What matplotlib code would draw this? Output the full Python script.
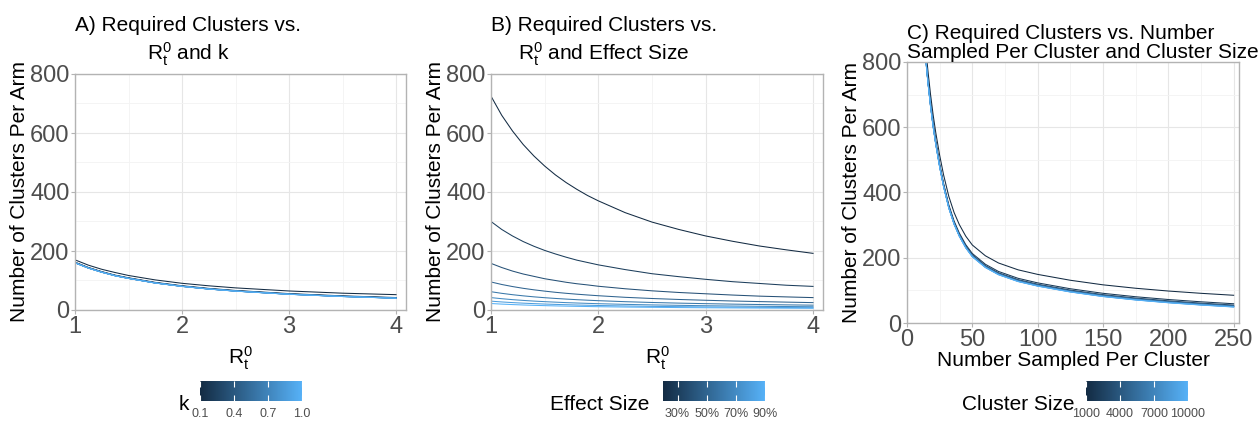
import numpy as np
import matplotlib
matplotlib.use("Agg")
import matplotlib.pyplot as plt
from matplotlib.colors import LinearSegmentedColormap, Normalize
from matplotlib.cm import ScalarMappable

plt.rcParams['font.family'] = ['Liberation Sans', 'DejaVu Sans']
plt.rcParams['mathtext.fontset'] = 'custom'
plt.rcParams['mathtext.rm'] = 'Liberation Sans'
plt.rcParams['mathtext.it'] = 'Liberation Sans:italic'

# ---- data ----
r_vals_a = [1, 1.125, 1.25, 1.375, 1.5, 1.75, 2, 2.25, 2.5, 3, 3.5, 4]
k_vals = [0.1, 0.2, 0.3, 0.4, 0.5, 0.6, 0.7, 0.8, 0.9, 1.0]
clusters_by_k = [
    [170, 152, 138, 127, 117, 102, 90.5, 82, 75, 64.5, 57, 52],
    [162.2, 144.2, 130.2, 118.2, 109.2, 93.6, 82.2, 73.2, 66.2, 55.5, 47.9, 42.2],
    [161.2, 143.2, 129.2, 117.2, 108.2, 92.6, 81.2, 72.2, 65.2, 54.5, 46.9, 41.2],
    [160.7, 142.7, 128.7, 116.7, 107.7, 92.1, 80.7, 71.7, 64.7, 54.0, 46.4, 40.7],
    [160.45, 142.45, 128.45, 116.45, 107.45, 91.85, 80.45, 71.45, 64.45, 53.75, 46.15, 40.45],
    [160.3, 142.3, 128.3, 116.3, 107.3, 91.7, 80.3, 71.3, 64.3, 53.6, 46.0, 40.3],
    [160.2, 142.2, 128.2, 116.2, 107.2, 91.6, 80.2, 71.2, 64.2, 53.5, 45.9, 40.2],
    [160.1, 142.1, 128.1, 116.1, 107.1, 91.5, 80.1, 71.1, 64.1, 53.4, 45.8, 40.1],
    [160.05, 142.05, 128.05, 116.05, 107.05, 91.45, 80.05, 71.05, 64.05, 53.35, 45.75, 40.05],
    [160, 142, 128, 116, 107, 91.4, 80, 71, 64, 53.3, 45.7, 40],
]

r_vals_b = [1, 1.1, 1.2, 1.3, 1.4, 1.5, 1.6, 1.7, 1.8, 1.9, 2,
            2.25, 2.5, 2.75, 3, 3.25, 3.5, 3.75, 4]
effect_vals = [0.2, 0.3, 0.4, 0.5, 0.6, 0.7, 0.8, 0.9]
clusters_by_effect = [
    [725, 660, 607, 561, 522, 488, 458, 432, 409, 388, 370, 330, 298, 273, 251, 233, 217, 204, 192],
    [300, 273, 251, 232, 216, 202, 190, 179, 169, 161, 153, 137, 123, 113, 104, 96, 90, 84, 80],
    [158, 144, 132, 122, 114, 106, 100, 94, 89, 85, 80.5, 72, 65, 59.4, 55, 50.7, 47, 44.4, 42],
    [95, 86.5, 79.5, 73.5, 68.4, 64, 60, 56.6, 53.6, 50.9, 48.4, 43, 39, 35.7, 33, 30.5, 28.5, 26.7, 25],
    [62, 56.5, 51.9, 48, 44.6, 41.7, 39.2, 37, 35, 33.2, 31.6, 28.2, 25.5, 23.3, 21.5, 19.9, 18.6, 17.4, 16.4],
    [42, 38.3, 35.1, 32.5, 30.2, 28.3, 26.6, 25, 23.7, 22.5, 21.4, 19.1, 17.3, 15.8, 14.5, 13.5, 12.6, 11.8, 11.1],
    [30, 27.3, 25.1, 23.2, 21.6, 20.2, 19, 17.9, 16.9, 16.1, 15.3, 13.7, 12.3, 11.3, 10.4, 9.6, 9, 8.4, 7.9],
    [22, 20, 18.4, 17, 15.8, 14.8, 13.9, 13.1, 12.4, 11.8, 11.2, 10, 9.1, 8.3, 7.6, 7.1, 6.6, 6.2, 5.8],
]

m_vals = [13, 14, 15, 16, 18, 20, 22, 25, 28, 32, 36, 40, 45, 50,
          60, 70, 85, 100, 125, 150, 175, 200, 225, 250]
size_vals = [1000, 2000, 3000, 4000, 5000, 6000, 7000, 8000, 9000, 10000]
clusters_by_size = [
    [916, 864, 816, 774, 701, 638, 584, 514, 454, 388, 339, 302, 266, 239, 206, 184, 163, 149, 131, 117, 106.5, 98, 91, 85],
    [890, 838, 790, 748, 675, 612, 558, 488, 428, 362, 313, 276, 240, 213, 180, 158, 137, 123, 105, 91, 80.5, 72, 65, 59],
    [886, 834, 786, 744, 671, 608, 554, 484, 424, 358, 309, 272, 236, 209, 176, 154, 133, 119, 101, 87, 76.5, 68, 61, 55],
    [884, 832, 784, 742, 669, 606, 552, 482, 422, 356, 307, 270, 234, 207, 174, 152, 131, 117, 99, 85, 74.5, 66, 59, 53],
    [883, 831, 783, 741, 668, 605, 551, 481, 421, 355, 306, 269, 233, 206, 173, 151, 130, 116, 98, 84, 73.5, 65, 58, 52],
    [882, 830, 782, 740, 667, 604, 550, 480, 420, 354, 305, 268, 232, 205, 172, 150, 129, 115, 97, 83, 72.5, 64, 57, 51],
    [881.4, 829.4, 781.4, 739.4, 666.4, 603.4, 549.4, 479.4, 419.4, 353.4, 304.4, 267.4, 231.4, 204.4, 171.4, 149.4, 128.4, 114.4, 96.4, 82.4, 71.9, 63.4, 56.4, 50.4],
    [880.9, 828.9, 780.9, 738.9, 665.9, 602.9, 548.9, 478.9, 418.9, 352.9, 303.9, 266.9, 230.9, 203.9, 170.9, 148.9, 127.9, 113.9, 95.9, 81.9, 71.4, 62.9, 55.9, 49.9],
    [880.4, 828.4, 780.4, 738.4, 665.4, 602.4, 548.4, 478.4, 418.4, 352.4, 303.4, 266.4, 230.4, 203.4, 170.4, 148.4, 127.4, 113.4, 95.4, 81.4, 70.9, 62.4, 55.4, 49.4],
    [880, 828, 780, 738, 665, 602, 548, 478, 418, 352, 303, 266, 230, 203, 170, 148, 127, 113, 95, 81, 70.5, 62, 55, 49],
]

# ---- style ----
cmap = LinearSegmentedColormap.from_list('gg', ['#132B43', '#56B1F7'])
border = '#B3B3B3'
grid_major = '#E6E6E6'
grid_minor = '#F3F3F3'
tick_col = '#4D4D4D'
R_lab = r'$\mathregular{R_t^0}$'
LW = 0.75

W, H = 1260, 423
fig = plt.figure(figsize=(W / 100, H / 100), dpi=100)


def px_axes(left, top, right, bottom):
    return fig.add_axes([left / W, 1 - bottom / H, (right - left) / W, (bottom - top) / H])


def style(ax, xmajor, xminor):
    ax.set_ylim(0, 800)
    ax.set_yticks([0, 200, 400, 600, 800])
    ax.set_yticks([100, 300, 500, 700], minor=True)
    ax.set_xticks(xmajor)
    ax.set_xticks(xminor, minor=True)
    ax.grid(True, which='major', color=grid_major, lw=0.8)
    ax.grid(True, which='minor', color=grid_minor, lw=0.6)
    ax.set_axisbelow(True)
    for s in ax.spines.values():
        s.set_color(border)
        s.set_linewidth(1.0)
    ax.tick_params(which='major', length=3, width=0.8, color=border,
                   labelsize=17, labelcolor=tick_col, pad=1)
    ax.tick_params(which='minor', length=0)
    ax.set_ylabel('Number of Clusters Per Arm', fontsize=15, labelpad=1)


def colorbar(left, top, right, bottom, norm, ticks, labels):
    cax = px_axes(left, top, right, bottom)
    cb = fig.colorbar(ScalarMappable(norm=norm, cmap=cmap), cax=cax, orientation='horizontal')
    cb.outline.set_visible(False)
    cb.set_ticks(ticks)
    cb.set_ticklabels(labels)
    cax.tick_params(axis='x', direction='in', length=4, width=0.8, color='white',
                    labelsize=9, labelcolor=tick_col, pad=5, top=True)
    return cax


# panel A
axA = px_axes(75, 74, 406, 310)
normA = Normalize(min(k_vals), max(k_vals))
for k, ys in zip(k_vals, clusters_by_k):
    axA.plot(r_vals_a, ys, color=cmap(normA(k)), lw=LW)
axA.set_xlim(1, 4.093)
style(axA, [1, 2, 3, 4], [1.5, 2.5, 3.5])
axA.set_xlabel(R_lab, fontsize=15, labelpad=5)
axA.set_title('A) Required Clusters vs.\n' + R_lab + ' and k', loc='left',
              fontsize=15, multialignment='center', pad=10, linespacing=1.25)

# panel B
axB = px_axes(491, 74, 823, 310)
normB = Normalize(min(effect_vals), max(effect_vals))
for e, ys in zip(effect_vals, clusters_by_effect):
    axB.plot(r_vals_b, ys, color=cmap(normB(e)), lw=LW)
axB.set_xlim(1, 4.093)
style(axB, [1, 2, 3, 4], [1.5, 2.5, 3.5])
axB.set_xlabel(R_lab, fontsize=15, labelpad=5)
axB.set_title('B) Required Clusters vs.\n' + R_lab + ' and Effect Size', loc='left',
              fontsize=15, multialignment='center', pad=10, linespacing=1.25)

# panel C
axC = px_axes(907, 62, 1239, 323)
normC = Normalize(min(size_vals), max(size_vals))
for n, ys in zip(size_vals, clusters_by_size):
    axC.plot(m_vals, ys, color=cmap(normC(n)), lw=LW)
axC.set_xlim(0, 254.1)
style(axC, [0, 50, 100, 150, 200, 250], [25, 75, 125, 175, 225])
axC.set_xlabel('Number Sampled Per Cluster', fontsize=15, labelpad=0)
axC.set_title('C) Required Clusters vs. Number\nSampled Per Cluster and Cluster Size',
              loc='left', fontsize=15, pad=3, linespacing=1.0)

# legends
colorbar(200, 381, 302, 401, normA, [0.1, 0.4, 0.7, 1.0], ['0.1', '0.4', '0.7', '1.0'])
fig.text(189, H - 410, 'k', fontsize=15, ha='right', va='baseline', transform=None)
colorbar(663, 381, 765, 401, normB, [0.3, 0.5, 0.7, 0.9], ['30%', '50%', '70%', '90%'])
fig.text(649, H - 410, 'Effect Size', fontsize=15, ha='right', va='baseline', transform=None)
colorbar(1086, 381, 1188, 401, normC, [1000, 4000, 7000, 10000], ['1000', '4000', '7000', '10000'])
fig.text(1075, H - 410, 'Cluster Size', fontsize=15, ha='right', va='baseline', transform=None)

fig.savefig('out.png', dpi=100)
